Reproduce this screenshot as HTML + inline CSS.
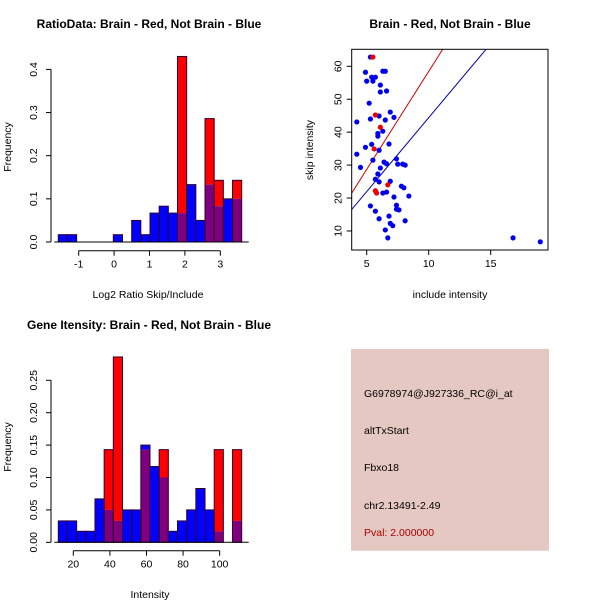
<!DOCTYPE html>
<html><head><meta charset="utf-8"><style>
body{margin:0;background:#fff;}
svg{display:block;font-family:"Liberation Sans",sans-serif;}
</style></head><body>
<svg id="s" width="600" height="600"></svg>
<script>
// Panel 1: ratio histogram
const ratioBlue=[0.017,0.017,0,0,0,0,0.017,0,0.05,0.017,0.067,0.083,0.067,0.067,0.133,0.05,0.133,0.083,0.1,0.1];
const ratioRed=[0,0,0,0,0,0,0,0,0,0,0,0,0,0.43,0,0,0.286,0.143,0,0.143];
const ratioXTicks=[-1,0,1,2,3];
const ratioYTicks=["0.0","0.1","0.2","0.3","0.4"];
// Panel 2: scatter
const blueX=[5.3,4.9,6.3,6.5,5.4,5.7,5.0,5.5,6.1,6.1,6.6,5.2,6.9,7.2,6.0,5.3,6.5,4.2,6.3,5.9,5.9,4.9,5.4,6.8,6.0,4.2,5.5,7.4,6.4,6.6,7.5,7.9,8.1,4.5,6.1,5.9,5.7,6.0,6.9,7.8,8.0,6.3,6.6,7.2,8.4,5.3,7.4,7.4,7.6,5.7,6.0,6.8,8.1,6.9,7.1,6.5,6.7,16.8,19.0];
const blueY=[62.8,58.2,58.5,58.5,56.7,56.7,55.5,55.5,54.3,52.2,52.5,48.8,46.1,44.5,44.9,44.0,43.7,43.1,40.3,39.6,38.8,35.4,36.3,36.4,34.5,33.3,31.5,31.9,30.9,30.4,30.3,30.3,30.0,29.3,29.1,27.3,25.7,24.9,25.1,23.6,23.1,21.5,21.8,20.3,20.6,17.6,17.8,16.6,16.4,16.0,13.7,14.5,13.1,12.3,11.6,10.3,7.9,7.9,6.7];
const redX=[5.5,5.7,6.1,5.6,6.7,5.7,5.8];
const redY=[62.8,45.2,41.5,34.9,24.0,22.2,21.5];
const redLine=[-1.05,5.95];
const blueLine=[-0.5,4.49];
const scXTicks=[5,10,15];
const scYTicks=[10,20,30,40,50,60];
// Panel 3: intensity histogram
const intBlue=[0.033,0.033,0.017,0.017,0.067,0.05,0.033,0.05,0.05,0.15,0.117,0.1,0.017,0.033,0.05,0.083,0.05,0.017,0,0.033];
const intRed=[0,0,0,0,0,0.143,0.286,0,0,0.143,0,0.143,0,0,0,0,0,0.143,0,0.143];
const intXTicks=[20,40,60,80,100];
const intYTicks=["0.00","0.05","0.10","0.15","0.20","0.25"];

const S=document.getElementById('s');
const NS='http://www.w3.org/2000/svg';
function el(tag,attrs,name,text){const e=document.createElementNS(NS,tag);for(const k in attrs)e.setAttribute(k,attrs[k]);


if(text!==undefined)e.textContent=text;S.appendChild(e);return e;}
function txt(x,y,s,name,o){o=o||{};const a={x:x,y:y,'font-size':o.fs||10.5,'text-anchor':o.anchor||'middle',fill:o.fill||'#000'};
if(o.bold)a['font-weight']='bold';if(o.rot!==undefined)a.transform='rotate('+o.rot+' '+x+' '+y+')';return el('text',a,name,s);}

function hist(blue,red,sx,sy,y0,yTickLabels,yStep,xTicks,axisY,prefix){
  const n=blue.length,left=58.3,w=(241.7-58.3)/n;
  const outlines=[];
  for(let i=0;i<n;i++){
    const xa=left+i*w;
    const b=blue[i],r=red[i];
    const top=Math.max(b,r);
    if(top<=0)continue;
    const m=Math.min(b,r);
    if(r>b) el('rect',{x:xa,y:sy(r),width:w,height:sy(m)-sy(r),fill:'#ff0000'},prefix+'-red-bar');
    if(b>r) el('rect',{x:xa,y:sy(b),width:w,height:sy(m)-sy(b),fill:'#0000ff'},prefix+'-blue-bar');
    if(m>0) el('rect',{x:xa,y:sy(m),width:w,height:y0-sy(m),fill:'#7f007f'},prefix+'-overlap-bar');
    outlines.push([xa,sy(top),y0-sy(top)]);
  }
  outlines.forEach(o=>el('rect',{x:o[0],y:o[1],width:w,height:o[2],fill:'none',stroke:'#300030','stroke-width':1},prefix+'-bar-outline'));
  el('line',{x1:left-4,x2:241.7+7,y1:y0,y2:y0,stroke:'#000'},prefix+'-baseline');
  const yt=yTickLabels.map((l,i)=>i*yStep);
  el('line',{x1:51,x2:51,y1:sy(yt[0]),y2:sy(yt[yt.length-1]),stroke:'#000'},prefix+'-y-axis');
  yt.forEach((v,i)=>{el('line',{x1:46,x2:51,y1:sy(v),y2:sy(v),stroke:'#000'},prefix+'-y-tick');
    txt(37,sy(v),yTickLabels[i],prefix+'-y-tick-label',{rot:-90});});
  el('line',{x1:sx(xTicks[0]),x2:sx(xTicks[xTicks.length-1]),y1:axisY,y2:axisY,stroke:'#000'},prefix+'-x-axis');
  xTicks.forEach(v=>{el('line',{x1:sx(v),x2:sx(v),y1:axisY,y2:axisY+5,stroke:'#000'},prefix+'-x-tick');
    txt(sx(v),axisY+17,String(v),prefix+'-x-tick-label');});
}
{const sx=v=>78.7+(v+1)*35.4, sy=v=>242-v*431.5;
 hist(ratioBlue,ratioRed,sx,sy,242,ratioYTicks,0.1,ratioXTicks,250.7,'ratio');
 txt(149,28,'RatioData: Brain - Red, Not Brain - Blue','ratio-title',{bold:true,fs:12});
 txt(148,298,'Log2 Ratio Skip/Include','ratio-x-title');
 txt(11,147,'Frequency','ratio-y-title',{rot:-90});}
{const sx=v=>73.3+(v-20)*1.8294, sy=v=>542.3-v*648;
 hist(intBlue,intRed,sx,sy,542.3,intYTicks,0.05,intXTicks,550.7,'intensity');
 txt(149,329,'Gene Itensity: Brain - Red, Not Brain - Blue','intensity-title',{bold:true,fs:12});
 txt(150,598,'Intensity','intensity-x-title');
 txt(11,447,'Frequency','intensity-y-title',{rot:-90});}
{const L=351.7,R=548,T=49.3,B=250;
 const sx=v=>366.7+(v-5)*12.4, sy=v=>66.3-(v-60)*3.293;
 const clip=el('clipPath',{id:'cp'},'scatter-clip');
 const cr=document.createElementNS(NS,'rect');cr.setAttribute('x',L);cr.setAttribute('y',T);cr.setAttribute('width',R-L);cr.setAttribute('height',B-T);clip.appendChild(cr);
 const xa=3,xb=20;
 el('line',{x1:sx(xa),y1:sy(redLine[0]+redLine[1]*xa),x2:sx(xb),y2:sy(redLine[0]+redLine[1]*xb),stroke:'#cc0000','clip-path':'url(#cp)'},'brain-fit-line');
 el('line',{x1:sx(xa),y1:sy(blueLine[0]+blueLine[1]*xa),x2:sx(xb),y2:sy(blueLine[0]+blueLine[1]*xb),stroke:'#0000aa','clip-path':'url(#cp)'},'not-brain-fit-line');
 blueX.forEach((x,i)=>el('circle',{cx:sx(x),cy:sy(blueY[i]),r:2.6,fill:'#0000ee'},'not-brain-point'));
 redX.forEach((x,i)=>el('circle',{cx:sx(x),cy:sy(redY[i]),r:2.6,fill:'#ee0000'},'brain-point'));
 el('rect',{x:L,y:T,width:R-L,height:B-T,fill:'none',stroke:'#000'},'scatter-frame');
 scXTicks.forEach(v=>{el('line',{x1:sx(v),x2:sx(v),y1:B,y2:B+5,stroke:'#000'},'scatter-x-tick');txt(sx(v),B+17,String(v),'scatter-x-tick-label');});
 scYTicks.forEach(v=>{el('line',{x1:L-5,x2:L,y1:sy(v),y2:sy(v),stroke:'#000'},'scatter-y-tick');txt(L-10,sy(v),String(v),'scatter-y-tick-label',{rot:-90});});
 txt(450,28,'Brain - Red, Not Brain - Blue','scatter-title',{bold:true,fs:12});
 txt(450,298,'include intensity','scatter-x-title');
 txt(313,150,'skip intensity','scatter-y-title',{rot:-90});}
el('rect',{x:351,y:349,width:198,height:201.7,fill:'#e6c8c2'},'info-panel');
txt(364,397,'G6978974@J927336_RC@i_at','probe-id',{anchor:'start'});
txt(364,434,'altTxStart','event-type',{anchor:'start'});
txt(364,471,'Fbxo18','gene-name',{anchor:'start'});
txt(364,509,'chr2.13491-2.49','chrom-location',{anchor:'start'});
txt(364,536,'Pval: 2.000000','p-value',{anchor:'start',fill:'#aa0000'});
</script>
</body></html>
